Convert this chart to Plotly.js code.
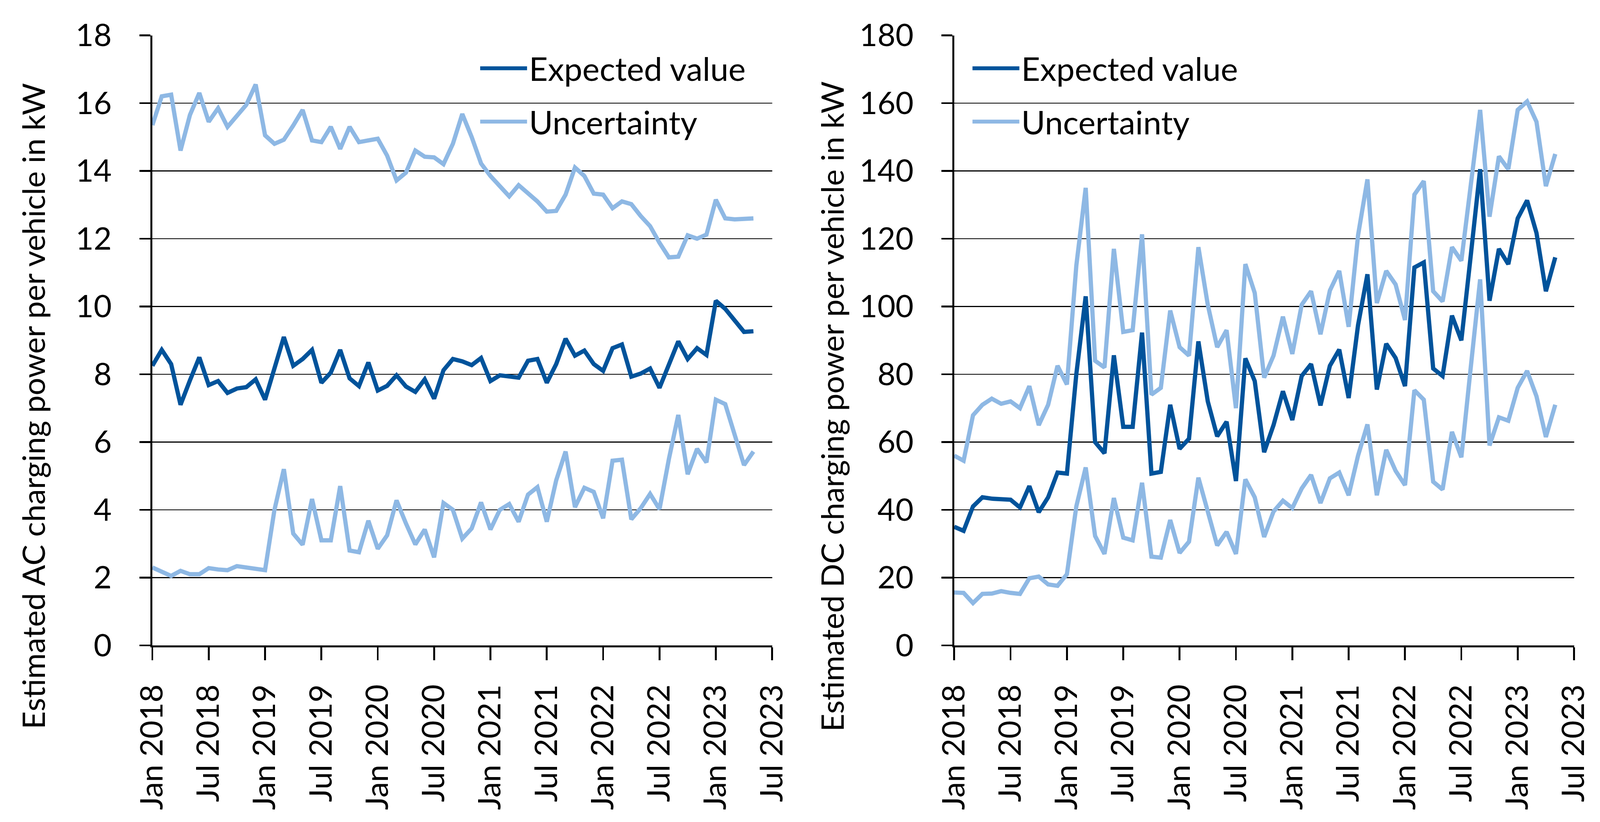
<!DOCTYPE html>
<html>
<head>
<meta charset="utf-8">
<script src="https://cdn.plot.ly/plotly-3.0.1.min.js"></script>
<style>html,body{margin:0;padding:0;background:#fff;overflow:hidden;}#chart{position:absolute;left:0;top:0;}</style>
</head>
<body>
<div id="chart"></div>
<script>
// Tick labels for the month axis (every 6 months, Jan 2018 .. Jul 2023)
const tickLabels = ["Jan 2018","Jul 2018","Jan 2019","Jul 2019","Jan 2020","Jul 2020",
                    "Jan 2021","Jul 2021","Jan 2022","Jul 2022","Jan 2023","Jul 2023"];
const tickMonths = [0,6,12,18,24,30,36,42,48,54,60,66];

// AC charging power per vehicle (kW), monthly Jan 2018 .. May 2023
const acExpected = [8.25,8.72,8.3,7.1,7.82,8.5,7.68,7.8,7.45,7.58,7.62,7.85,
                    7.25,8.15,9.1,8.25,8.45,8.72,7.75,8.05,8.72,7.88,7.65,8.35,
                    7.52,7.66,7.97,7.64,7.48,7.85,7.28,8.12,8.45,8.38,8.27,8.48,
                    7.8,7.97,7.93,7.9,8.4,8.45,7.75,8.3,9.05,8.55,8.7,8.3,
                    8.1,8.77,8.88,7.93,8.02,8.17,7.6,8.3,8.97,8.45,8.77,8.57,
                    10.17,9.93,9.6,9.25,9.27];
const acUpper = [15.35,16.2,16.25,14.6,15.65,16.3,15.45,15.85,15.3,15.65,15.95,16.55,
                 15.05,14.8,14.92,15.34,15.8,14.9,14.85,15.3,14.65,15.3,14.85,14.9,
                 14.95,14.45,13.72,13.95,14.6,14.42,14.4,14.2,14.8,15.68,15.0,14.22,
                 13.85,13.55,13.25,13.58,13.35,13.1,12.8,12.82,13.3,14.1,13.85,13.33,
                 13.3,12.9,13.1,13.02,12.67,12.37,11.88,11.45,11.47,12.1,12.0,12.12,
                 13.15,12.6,12.57,12.6,12.6];
const acLower = [2.3,2.16,2.05,2.2,2.1,2.1,2.28,2.24,2.22,2.34,2.31,2.27,
                 2.22,4.0,5.2,3.3,2.97,4.32,3.1,3.1,4.7,2.8,2.75,3.68,
                 2.85,3.25,4.28,3.6,2.98,3.42,2.6,4.2,4.0,3.15,3.45,4.22,
                 3.42,4.0,4.17,3.65,4.45,4.67,3.65,4.87,5.72,4.08,4.65,4.53,
                 3.75,5.45,5.48,3.72,4.05,4.47,4.02,5.5,6.8,5.05,5.8,5.4,
                 7.25,7.12,6.2,5.32,5.72];

// DC charging power per vehicle (kW), monthly Jan 2018 .. May 2023
const dcExpected = [35,33.8,41,43.7,43.3,43.2,43,40.7,47,39.3,43.7,51,
                    50.7,80,103,60,56.7,85.6,64.5,64.5,92.3,50.7,51.2,71,
                    58,61,89.7,72,61.7,66,48.5,84.7,78,57,65,75,
                    66.5,79.5,83,70.8,82.5,87.3,73,94.5,109.5,75.5,89,84.8,
                    76.5,111.5,113,81.7,79.5,97.3,90,115,140.5,101.7,117,112.5,
                    126,131.3,121.7,104.5,114.5];
const dcUpper = [56,54.5,67.9,71,72.8,71.3,72,70,76.5,65,71,82.5,
                 77,112,135,84,82,117,92.5,93,121.3,74,76,98.8,
                 88,85.5,117.5,100.5,88,93,70,112.5,104,79,85.5,97,
                 86,100.5,104.5,91.8,104.7,110.5,94,121,137.5,101,110.5,106.5,
                 96,133,137,104.5,101.5,117.5,113.5,135,158,126.5,144.3,140.5,
                 158,160.5,154.5,135.5,145];
const dcLower = [15.6,15.5,12.5,15.2,15.3,16,15.5,15.2,19.8,20.3,18,17.6,
                 21,41,52.5,32.3,27,43.5,31.8,31,48,26.2,25.9,37,
                 27.3,30.6,49.5,39,29.5,33.5,27,49,43.7,32,39.5,42.7,
                 40.5,46.3,50.3,42,49.3,51,44.3,56,65.2,44.3,57.7,51.5,
                 47.3,75.3,72.5,48.3,46,63,55.5,82,108,59,67.3,66.3,
                 76,81,73.5,61.5,71];

const seriesNames = ["Expected value", "Uncertainty"];
const yTitles = ["Estimated AC charging power per vehicle in kW",
                 "Estimated DC charging power per vehicle in kW"];

// month index for each observation
const months = acExpected.map((_, i) => i);

// Reference design is 4316 x 2104; scale to the actual viewport
const RW = 4316, RH = 2104;
const W = window.innerWidth || RW;
const H = window.innerHeight || RH;
const k = Math.min(W / RW, H / RH);
const el = document.getElementById("chart");
el.style.width = W + "px";
el.style.height = H + "px";

const DARK = "#00539B";
const LIGHT = "#8EB8E4";
const LW = 11.5 * k;
const FONT = "Lato, 'Open Sans', sans-serif";
const FS = 84 * k;
const LFS = 88 * k;

function mk(y, xa, ya, name, color, leg, show, grp) {
  return {x: months, y: y, xaxis: xa, yaxis: ya, type: "scatter", mode: "lines",
          name: name, legend: leg, showlegend: show, legendgroup: grp,
          line: {color: color, width: LW}, hoverinfo: "skip"};
}

const traces = [
  mk(acExpected, "x", "y", seriesNames[0], DARK, "legend", true, "a1"),
  mk(acUpper, "x", "y", seriesNames[1], LIGHT, "legend", true, "a2"),
  mk(acLower, "x", "y", seriesNames[1], LIGHT, "legend", false, "a2"),
  mk(dcExpected, "x2", "y2", seriesNames[0], DARK, "legend2", true, "b1"),
  mk(dcUpper, "x2", "y2", seriesNames[1], LIGHT, "legend2", true, "b2"),
  mk(dcLower, "x2", "y2", seriesNames[1], LIGHT, "legend2", false, "b2")
];

const yDom = [(RH - 1652) / RH, (RH - 90.5) / RH];

function xAx(dom, anchor) {
  return {domain: dom, anchor: anchor, range: [0, 66], tickmode: "array",
          tickvals: tickMonths, ticktext: tickLabels, tickangle: -90,
          ticks: "outside", ticklen: 35 * k, tickwidth: 5 * k, tickcolor: "#000",
          showline: true, linewidth: 5 * k, linecolor: "#000",
          showgrid: false, zeroline: false, automargin: false,
          ticklabelstandoff: Math.round(32 * k),
          tickfont: {family: FONT, size: FS, color: "#000"}};
}
function yAx(anchor, max, dtick) {
  return {domain: yDom, anchor: anchor, range: [0, max], dtick: dtick, tick0: 0,
          ticks: "outside", ticklen: 30 * k, tickwidth: 5 * k, tickcolor: "#000",
          showline: true, linewidth: 5 * k, linecolor: "#000",
          showgrid: true, gridcolor: "#000", gridwidth: 2.7 * k, zeroline: false,
          automargin: false, ticklabelstandoff: Math.round(58 * k),
          tickfont: {family: FONT, size: FS, color: "#000"}};
}

const legStyle = {font: {family: FONT, size: LFS, color: "#000"}, bgcolor: "rgba(0,0,0,0)",
                  borderwidth: 0, itemwidth: Math.max(30, Math.round(126 * k)),
                  tracegroupgap: Math.round(26 * k), traceorder: "grouped",
                  xanchor: "left", yanchor: "top", itemclick: false, itemdoubleclick: false};

const layout = {
  width: W, height: H, margin: {l: 0, r: 0, t: 0, b: 0},
  paper_bgcolor: "#fff", plot_bgcolor: "#fff", showlegend: true,
  font: {family: FONT, size: FS, color: "#000"},
  xaxis: xAx([411 / RW, 2083 / RW], "y"),
  yaxis: yAx("x", 18, 2),
  xaxis2: xAx([2574 / RW, 4246 / RW], "y2"),
  yaxis2: yAx("x2", 180, 20),
  legend: Object.assign({x: 1290 / RW, y: (RH - 114) / RH}, legStyle),
  legend2: Object.assign({x: 2618 / RW, y: (RH - 114) / RH}, legStyle),
  annotations: [
    {text: yTitles[0], xref: "paper", yref: "paper", x: 88 / RW, y: (RH - 1040) / RH,
     textangle: -90, showarrow: false, xanchor: "center", yanchor: "middle",
     font: {family: FONT, size: FS, color: "#000"}},
    {text: yTitles[1], xref: "paper", yref: "paper", x: 2243 / RW, y: (RH - 1040) / RH,
     textangle: -90, showarrow: false, xanchor: "center", yanchor: "middle",
     font: {family: FONT, size: FS, color: "#000"}}
  ]
};

Plotly.newPlot("chart", traces, layout, {staticPlot: true, displayModeBar: false});
</script>
</body>
</html>
